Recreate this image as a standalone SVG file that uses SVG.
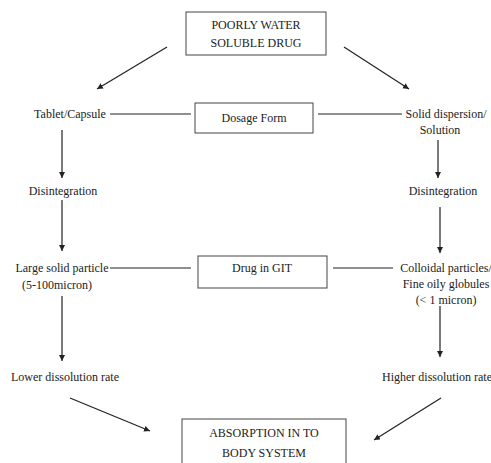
<svg xmlns="http://www.w3.org/2000/svg" width="491" height="463" viewBox="0 0 491 463">
<style>
text{font-family:"Liberation Serif","Times New Roman",serif;font-size:12px;fill:#222;text-anchor:middle;dominant-baseline:central}
.box{fill:#fff;stroke:#444;stroke-width:1}
.ln{stroke:#222;stroke-width:1.2;fill:none}
.ar{stroke:#222;stroke-width:1.2;fill:none;marker-end:url(#ah)}
</style>
<defs>
<marker id="ah" markerWidth="8" markerHeight="8" refX="6" refY="3" orient="auto" markerUnits="userSpaceOnUse">
<path d="M0,0 L6,3 L0,6 Z" fill="#222"/>
</marker>
</defs>
<rect width="491" height="463" fill="#fff"/>
<g id="connectors">
<line class="ar" x1="167" y1="47" x2="97" y2="89"/>
<line class="ar" x1="344" y1="47" x2="409" y2="89"/>
<line class="ln" x1="110" y1="114" x2="191" y2="114"/>
<line class="ln" x1="318" y1="114" x2="402" y2="114"/>
<line class="ar" x1="62" y1="130" x2="62" y2="178"/>
<line class="ar" x1="438" y1="140" x2="438" y2="178"/>
<line class="ar" x1="62" y1="200" x2="62" y2="251"/>
<line class="ar" x1="440" y1="207" x2="440" y2="253"/>
<line class="ln" x1="110" y1="268" x2="191" y2="268"/>
<line class="ln" x1="333" y1="268" x2="393" y2="268"/>
<line class="ar" x1="62" y1="296" x2="62" y2="361"/>
<line class="ar" x1="440" y1="306" x2="440" y2="357"/>
<line class="ar" x1="70" y1="398" x2="150" y2="431"/>
<line class="ar" x1="441" y1="398" x2="374" y2="440"/>
</g>
<g id="n-drug">
<rect class="box" x="186" y="12" width="140" height="43"/>
<text x="256" y="25">POORLY WATER</text>
<text x="256" y="43">SOLUBLE DRUG</text>
</g>
<g id="n-tablet"><text x="70" y="114">Tablet/Capsule</text></g>
<g id="n-dosage">
<rect class="box" x="195" y="103" width="118" height="30"/>
<text x="254" y="118">Dosage Form</text>
</g>
<g id="n-solid">
<text x="446" y="114">Solid dispersion/</text>
<text x="440" y="130">Solution</text>
</g>
<g id="n-dis-l"><text x="63" y="191">Disintegration</text></g>
<g id="n-dis-r"><text x="443" y="191">Disintegration</text></g>
<g id="n-large">
<text x="62" y="268">Large solid particle</text>
<text x="57" y="285">(5-100micron)</text>
</g>
<g id="n-git">
<rect class="box" x="198" y="256" width="129" height="32"/>
<text x="262" y="268">Drug in GIT</text>
</g>
<g id="n-colloid">
<text x="446" y="268">Colloidal particles/</text>
<text x="446" y="284">Fine oily globules</text>
<text x="446" y="300">(&lt; 1 micron)</text>
</g>
<g id="n-lower"><text x="65" y="377">Lower dissolution rate</text></g>
<g id="n-higher"><text x="437" y="377">Higher dissolution rate</text></g>
<g id="n-absorb">
<rect class="box" x="182" y="419" width="164" height="50"/>
<text x="264" y="433">ABSORPTION IN TO</text>
<text x="264" y="453">BODY SYSTEM</text>
</g>
</svg>
